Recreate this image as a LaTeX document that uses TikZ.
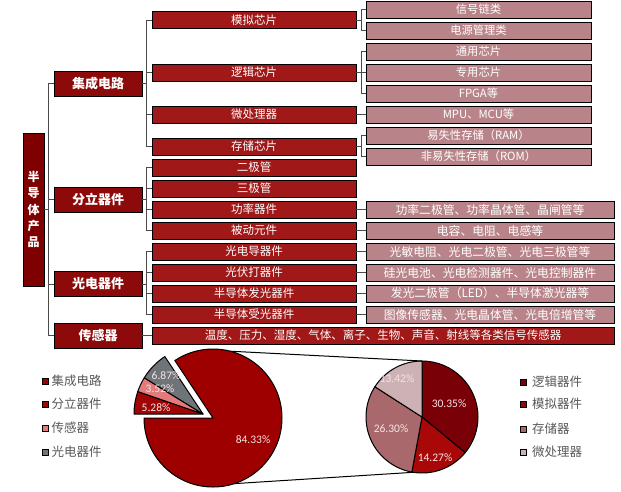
\documentclass[tikz,border=0pt]{standalone}
\usepackage{fontspec}
\setmainfont{Noto Sans CJK SC}
\newfontfamily\numfont{Carlito}
\definecolor{cRoot}{HTML}{7F0000}
\definecolor{cLone}{HTML}{8C0A0A}
\definecolor{cLtwo}{HTML}{A01818}
\definecolor{cLthree}{HTML}{B98489}
\definecolor{cLine}{HTML}{4A4A4A}
\definecolor{cLeg}{HTML}{595959}
\definecolor{cBig}{HTML}{9E0000}
\definecolor{cDis}{HTML}{A00505}
\definecolor{cSen}{HTML}{E57A7A}
\definecolor{cOpt}{HTML}{6F7478}
\definecolor{cLog}{HTML}{7A0008}
\definecolor{cAna}{HTML}{A80808}
\definecolor{cMem}{HTML}{A8686C}
\definecolor{cMpu}{HTML}{CDB1B4}
\definecolor{cLab}{HTML}{F5E4E4}
\begin{document}
\begin{tikzpicture}[x=1pt,y=-1pt,
  box/.style={draw=black, line width=0.8pt, inner sep=0pt, text=white, anchor=center},
  rootbox/.style={box, fill=cRoot, minimum width=21, minimum height=153, font=\bfseries\fontsize{12}{16.3}\selectfont, align=center},
  lvone/.style={box, fill=cLone, minimum width=88, minimum height=25, font=\bfseries\fontsize{13}{15}\selectfont},
  lvtwo/.style={box, fill=cLtwo, minimum width=204, minimum height=17, font=\fontsize{11.5}{13}\selectfont},
  lvthree/.style={box, fill=cLthree, minimum width=225, minimum height=17, font=\fontsize{11.3}{13}\selectfont},
  lvthreew/.style={box, fill=cLthree, minimum width=248, minimum height=17, font=\fontsize{11.8}{13}\selectfont},
  conn/.style={draw=cLine, line width=0.8pt},
  pieline/.style={draw=black, line width=1pt, line join=round},
  pielink/.style={draw=black, line width=1pt},
  plabel/.style={font=\numfont\fontsize{11.5}{13}\selectfont, text=cLab, inner sep=0pt},
  legsq/.style={draw=black, line width=0.8pt, minimum size=6, inner sep=0pt},
  legtext/.style={anchor=west, inner sep=0pt, text=cLeg, font=\fontsize{12.5}{14}\selectfont}
]
\useasboundingbox (0,0) rectangle (621,491);
\fill[white] (0,0) rectangle (621,491);

% root
\node[rootbox] (root) at (33.5,209.5) {半\\导\\体\\产\\品};

% level one
\node[lvone] (a1) at (98,83.5) {集成电路};
\node[lvone] (a2) at (98,199.5) {分立器件};
\node[lvone] (a3) at (98,284) {光电器件};
\node[lvone] (a4) at (98,335.5) {传感器};

% level two
\node[lvtwo] (b1) at (254,20) {模拟芯片};
\node[lvtwo] (b2) at (254,72.5) {逻辑芯片};
\node[lvtwo] (b3) at (254,114.5) {微处理器};
\node[lvtwo] (b4) at (254,146.5) {存储芯片};
\node[lvtwo] (c1) at (254,167.5) {二极管};
\node[lvtwo] (c2) at (254,188.5) {三极管};
\node[lvtwo] (c3) at (254,209.5) {功率器件};
\node[lvtwo] (c4) at (254,230.5) {被动元件};
\node[lvtwo] (d1) at (254,251.5) {光电导器件};
\node[lvtwo] (d2) at (254,272.5) {光伏打器件};
\node[lvtwo] (d3) at (254,293.5) {半导体发光器件};
\node[lvtwo] (d4) at (254,314.5) {半导体受光器件};
\node[lvtwo, minimum width=462] (e1) at (383,335.5) {温度、压力、湿度、气体、离子、生物、声音、射线等各类信号传感器};

% level three
\node[lvthree] (f1) at (478.5,9.5) {信号链类};
\node[lvthree] (f2) at (478.5,30.5) {电源管理类};
\node[lvthree] (f3) at (478.5,51.5) {通用芯片};
\node[lvthree] (f4) at (478.5,72.5) {专用芯片};
\node[lvthree] (f5) at (478.5,93.5) {FPGA等};
\node[lvthree] (f6) at (478.5,114.5) {MPU、MCU等};
\node[lvthree] (f7) at (478.5,135.5) {易失性存储（RAM）};
\node[lvthree] (f8) at (478.5,156.5) {非易失性存储（ROM）};
\node[lvthreew] (g3) at (490,209.5) {功率二极管、功率晶体管、晶闸管等};
\node[lvthreew] (g4) at (490,230.5) {电容、电阻、电感等};
\node[lvthreew] (h1) at (490,251.5) {光敏电阻、光电二极管、光电三极管等};
\node[lvthreew] (h2) at (490,272.5) {硅光电池、光电检测器件、光电控制器件};
\node[lvthreew] (h3) at (490,293.5) {发光二极管（LED）、半导体激光器等};
\node[lvthreew] (h4) at (490,314.5) {图像传感器、光电晶体管、光电倍增管等};

% trunk
\draw[conn] (a1.west) -- ++(-5,0) coordinate (t1) |- (a4.west);
\draw[conn] (a2.west) -- (a2.west -| t1);
\draw[conn] (a3.west) -- (a3.west -| t1);
\draw[conn] (root.east) -- (root.east -| t1);

% level one to two
\draw[conn] (b1.west) -- ++(-5,0) coordinate (u1) |- (b4.west);
\draw[conn] (b2.west) -- (b2.west -| u1);
\draw[conn] (b3.west) -- (b3.west -| u1);
\draw[conn] (a1.east) -- (a1.east -| u1);

\draw[conn] (c1.west) -- ++(-5,0) coordinate (u2) |- (c4.west);
\draw[conn] (c2.west) -- (c2.west -| u2);
\draw[conn] (c3.west) -- (c3.west -| u2);
\draw[conn] (a2.east) -- (a2.east -| u2);

\draw[conn] (d1.west) -- ++(-5,0) coordinate (u3) |- (d4.west);
\draw[conn] (d2.west) -- (d2.west -| u3);
\draw[conn] (d3.west) -- (d3.west -| u3);
\draw[conn] (a3.east) -- (a3.east -| u3);

\draw[conn] (a4.east) -- (e1.west);

% level two to three
\draw[conn] (f1.west) -- ++(-4,0) coordinate (v1) |- (f2.west);
\draw[conn] (b1.east) -- (b1.east -| v1);
\draw[conn] (f3.west) -- ++(-4,0) coordinate (v2) |- (f5.west);
\draw[conn] (b2.east) -- (f4.west);
\draw[conn] (b3.east) -- (f6.west);
\draw[conn] (f7.west) -- ++(-4,0) coordinate (v3) |- (f8.west);
\draw[conn] (b4.east) -- (b4.east -| v3);
\draw[conn] (c3.east) -- (g3.west);
\draw[conn] (c4.east) -- (g4.west);
\draw[conn] (d1.east) -- (h1.west);
\draw[conn] (d2.east) -- (h2.west);
\draw[conn] (d3.east) -- (h3.west);
\draw[conn] (d4.east) -- (h4.west);

% big pie
\begin{scope}[shift={(213,418)}, yscale=-1]
  \filldraw[pieline, fill=cBig] (0,0) -- (180:69) arc[start angle=180, end angle=483.588, radius=69] -- cycle;
  \begin{scope}[shift={(-10,4)}]
    \filldraw[pieline, fill=cDis] (0,0) -- (160.992:69) arc[start angle=160.992, end angle=180, radius=69] -- cycle;
    \filldraw[pieline, fill=cSen] (0,0) -- (148.32:69) arc[start angle=148.32, end angle=160.992, radius=69] -- cycle;
    \filldraw[pieline, fill=cOpt] (0,0) -- (123.588:69) arc[start angle=123.588, end angle=148.32, radius=69] -- cycle;
  \end{scope}
  \coordinate (bigtop) at (75.5:69);
  \coordinate (bigbot) at (-72:69);
\end{scope}

% small pie
\begin{scope}[shift={(422,417)}, yscale=-1]
  \filldraw[pieline, fill=cLog] (0,0) -- (90:56) arc[start angle=90, end angle=-39.55, radius=56] -- cycle;
  \filldraw[pieline, fill=cAna] (0,0) -- (-39.55:56) arc[start angle=-39.55, end angle=-100.46, radius=56] -- cycle;
  \filldraw[pieline, fill=cMem] (0,0) -- (-100.46:56) arc[start angle=-100.46, end angle=-212.72, radius=56] -- cycle;
  \filldraw[pieline, fill=cMpu] (0,0) -- (-212.72:56) arc[start angle=-212.72, end angle=-270, radius=56] -- cycle;
  \coordinate (smalltop) at (90:56);
  \coordinate (smallbot) at (-99:56);
\end{scope}

\draw[pielink] (bigtop) -- (smalltop);
\draw[pielink] (bigbot) -- (smallbot);

% pie labels
\node[plabel] (p1) at (253,440) {84.33\%};
\node[plabel] (p2) at (156,408) {5.28\%};
\node[plabel] (p3) at (160,389) {3.52\%};
\node[plabel] (p4) at (166,376) {6.87\%};
\node[plabel] (q1) at (449,404) {30.35\%};
\node[plabel] (q2) at (435,458) {14.27\%};
\node[plabel] (q3) at (391,429) {26.30\%};
\node[plabel] (q4) at (397,379) {13.42\%};

% left legend
\node[legsq, fill=cBig] (m1) at (45.5,381) {};
\node[legsq, fill=cDis] (m2) at (45.5,404) {};
\node[legsq, fill=cSen] (m3) at (45.5,428) {};
\node[legsq, fill=cOpt] (m4) at (45.5,452) {};
\node[legtext] (n1) at (51.5,381) {集成电路};
\node[legtext] (n2) at (51.5,404) {分立器件};
\node[legtext] (n3) at (51.5,428) {传感器};
\node[legtext] (n4) at (51.5,452) {光电器件};

% right legend
\node[legsq, fill=cLog] (r1) at (523.5,382) {};
\node[legsq, fill=cAna!85!black] (r2) at (523.5,404) {};
\node[legsq, fill=cMem] (r3) at (523.5,429) {};
\node[legsq, fill=cMpu] (r4) at (523.5,452) {};
\node[legtext] (s1) at (532,382) {逻辑器件};
\node[legtext] (s2) at (532,404) {模拟器件};
\node[legtext] (s3) at (532,429) {存储器};
\node[legtext] (s4) at (532,452) {微处理器};
\end{tikzpicture}
\end{document}
